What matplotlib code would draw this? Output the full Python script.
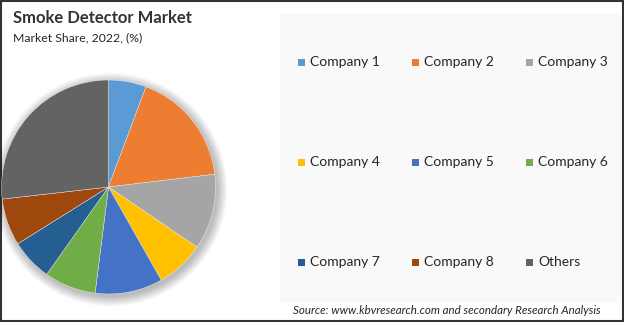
import numpy as np
import matplotlib
matplotlib.use("Agg")
import matplotlib.pyplot as plt
from matplotlib.patches import Rectangle, Circle

# market share (%), clockwise from 12 o'clock
companies = ["Company 1", "Company 2", "Company 3",
             "Company 4", "Company 5", "Company 6",
             "Company 7", "Company 8", "Others"]
shares = [5.7, 17.4, 11.4, 7.3, 10.2, 7.8, 6.3, 7.1, 26.8]
colors = ["#5B9BD5", "#ED7D31", "#A5A5A5", "#FFC000", "#4472C4",
          "#70AD47", "#255E91", "#9E480E", "#636363"]

W, H = 624, 322
FONT = "Lato"

fig = plt.figure(figsize=(W / 100, H / 100), dpi=100)
fig.patch.set_facecolor("white")

# overlay in pixel coords for panel, legend and frame
bg = fig.add_axes([0, 0, 1, 1])
bg.set_xlim(0, W)
bg.set_ylim(H, 0)
bg.axis("off")
bg.add_patch(Rectangle((280, 13), 341, 290, facecolor="#f9f9f9", edgecolor="none"))

# pie
cx, cy, r = 108.5, 187, 107
ax = fig.add_axes([(cx - r) / W, (H - cy - r) / H, 2 * r / W, 2 * r / H])
ax.set_aspect("equal")
ax.axis("off")

# soft shadow
for k in range(14):
    ax.add_patch(Circle((0.02, -0.025), 1.0 + 0.007 * k, facecolor="black",
                        edgecolor="none", alpha=0.02, zorder=0, clip_on=False))

ax.pie(shares, colors=colors, startangle=90, counterclock=False, radius=1.0,
       wedgeprops=dict(linewidth=0.3, edgecolor="#f0f0f0"))
ax.set_xlim(-1.0, 1.0)
ax.set_ylim(-1.0, 1.0)

# legend grid (3 x 3, row first)
col_x = [298, 412, 526]
row_y = [62, 162, 262]
for i, (name, c) in enumerate(zip(companies, colors)):
    x0 = col_x[i % 3]
    y0 = row_y[i // 3]
    bg.add_patch(Rectangle((x0, y0 - 3.5), 7, 7, facecolor=c, edgecolor="none"))
    bg.text(x0 + 12, y0, name, fontsize=10, family=FONT, color="#262626",
            va="center", ha="left")

# titles
fig.text(13 / W, 1 - 18 / H, "Smoke Detector Market", fontsize=12, family=FONT,
         fontweight="bold", color="#333333", va="center", ha="left")
fig.text(13 / W, 1 - 38 / H, "Market Share, 2022, (%)", fontsize=8.8, family=FONT,
         color="#262626", va="center", ha="left")
fig.text(293 / W, 1 - 311 / H,
         "Source: www.kbvresearch.com and secondary Research Analysis",
         fontsize=8.3, family=FONT, style="italic", color="#262626",
         va="center", ha="left")

# outer frame
bg.add_patch(Rectangle((0.75, 0.75), W - 1.5, H - 1.5, facecolor="none",
                       edgecolor="#333333", linewidth=1.5))

fig.savefig("out.png", dpi=100)
